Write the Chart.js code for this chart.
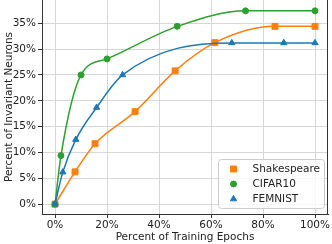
<!DOCTYPE html>
<html>
<head>
<meta charset="utf-8">
<script src="https://cdn.jsdelivr.net/npm/chart.js@4.4.1/dist/chart.umd.min.js"></script>
<style>
  html, body { margin: 0; padding: 0; background: #fff; }
  canvas { display: block; }
</style>
</head>
<body>
<canvas id="chart" width="332" height="244"></canvas>
<script>
// values (percent)
const shakespeareX = [0, 7.7, 15.4, 30.8, 46.2, 61.5, 84.6, 100];
const shakespeareY = [0, 6.25, 11.7, 17.9, 25.8, 31.25, 34.4, 34.4];
const cifarX = [0, 2.3, 10, 20, 47, 73.3, 100];
const cifarY = [0, 9.4, 25, 28.1, 34.4, 37.4, 37.4];
const femnistX = [0, 3, 8, 16, 26, 68, 88, 100];
const femnistY = [0, 6.2, 12.5, 18.7, 25, 31.2, 31.2, 31.2];
const xTicks = [0, 20, 40, 60, 80, 100];
const yTicks = [0, 5, 10, 15, 20, 25, 30, 35];

const font = { family: "DejaVu Sans", size: 10.5 };
const toPoints = (xs, ys) => xs.map((x, i) => ({ x: x, y: ys[i] }));

const series = (label, xs, ys, color, style, radius, order) => ({
    label: label,
    data: toPoints(xs, ys),
    borderColor: color,
    backgroundColor: color,
    borderWidth: 1.5,
    pointStyle: style,
    pointRadius: radius,
    pointBorderWidth: 1,
    pointBackgroundColor: color,
    pointBorderColor: color,
    cubicInterpolationMode: "monotone",
    order: order,
});

// right spine + legend in the lower right corner
const frameAndLegend = {
    id: "frameAndLegend",
    afterDraw(chart) {
        const { ctx, chartArea } = chart;
        ctx.save();
        ctx.strokeStyle = "#333";
        ctx.lineWidth = 1;
        ctx.beginPath();
        ctx.moveTo(chartArea.right - 0.5, chartArea.top);
        ctx.lineTo(chartArea.right - 0.5, chartArea.bottom);
        ctx.stroke();

        const bx = chartArea.right - 109.5, by = chartArea.bottom - 54.5;
        ctx.beginPath();
        ctx.roundRect(bx, by, 106, 49, 3);
        ctx.fillStyle = "rgba(255,255,255,0.8)";
        ctx.fill();
        ctx.strokeStyle = "#cccccc";
        ctx.stroke();

        ctx.font = "10.5px 'DejaVu Sans'";
        ctx.textBaseline = "middle";
        ctx.textAlign = "left";
        chart.data.datasets.forEach((ds, i) => {
            const y = by + 9.5 + i * 15;
            ctx.fillStyle = ds.backgroundColor;
            ctx.strokeStyle = ds.borderColor;
            ctx.lineWidth = 1;
            Chart.helpers.drawPoint(ctx, {
                pointStyle: ds.pointStyle, radius: ds.pointRadius, rotation: 0, borderWidth: 1
            }, bx + 15, y);
            ctx.fillStyle = "#222";
            ctx.fillText(ds.label, bx + 34, y);
        });
        ctx.restore();
    },
};

new Chart(document.getElementById("chart"), {
    type: "line",
    data: {
        datasets: [
            series("Shakespeare", shakespeareX, shakespeareY, "#ff7f0e", "rect", 4.2, 2),
            series("CIFAR10", cifarX, cifarY, "#2ca02c", "circle", 3, 1),
            series("FEMNIST", femnistX, femnistY, "#1f77b4", "triangle", 3.6, 0),
        ],
    },
    options: {
        responsive: false,
        animation: false,
        layout: { autoPadding: false, padding: { top: 0, right: 4, bottom: 0, left: 0 } },
        plugins: { legend: { display: false }, tooltip: { enabled: false } },
        scales: {
            x: {
                type: "linear",
                min: -5,
                max: 105,
                afterBuildTicks: (s) => { s.ticks = xTicks.map((v) => ({ value: v })); },
                afterFit: (s) => { s.height = 30; s.paddingLeft = 0; s.paddingRight = 0; },
                ticks: { font: font, color: "#222", padding: 1, maxRotation: 0,
                    callback: (v) => v + "%" },
                grid: { color: "#d6d6d6", tickColor: "#333", tickLength: 4 },
                border: { color: "#333" },
                title: { display: true, text: "Percent of Training Epochs", font: font,
                    color: "#222", padding: { top: 0, bottom: 0 } },
            },
            y: {
                type: "linear",
                min: -1.9,
                max: 39.5,
                afterBuildTicks: (s) => { s.ticks = yTicks.map((v) => ({ value: v })); },
                afterFit: (s) => { s.width = 42; s.paddingTop = 0; s.paddingBottom = 0; },
                ticks: { font: font, color: "#222", padding: 2,
                    callback: (v) => v + "%" },
                grid: { color: "#d6d6d6", tickColor: "#333", tickLength: 4 },
                border: { color: "#333" },
                title: { display: true, text: "Percent of Invariant Neurons", font: font,
                    color: "#222", padding: { top: 3, bottom: 0 } },
            },
        },
    },
    plugins: [frameAndLegend],
});
</script>
</body>
</html>
